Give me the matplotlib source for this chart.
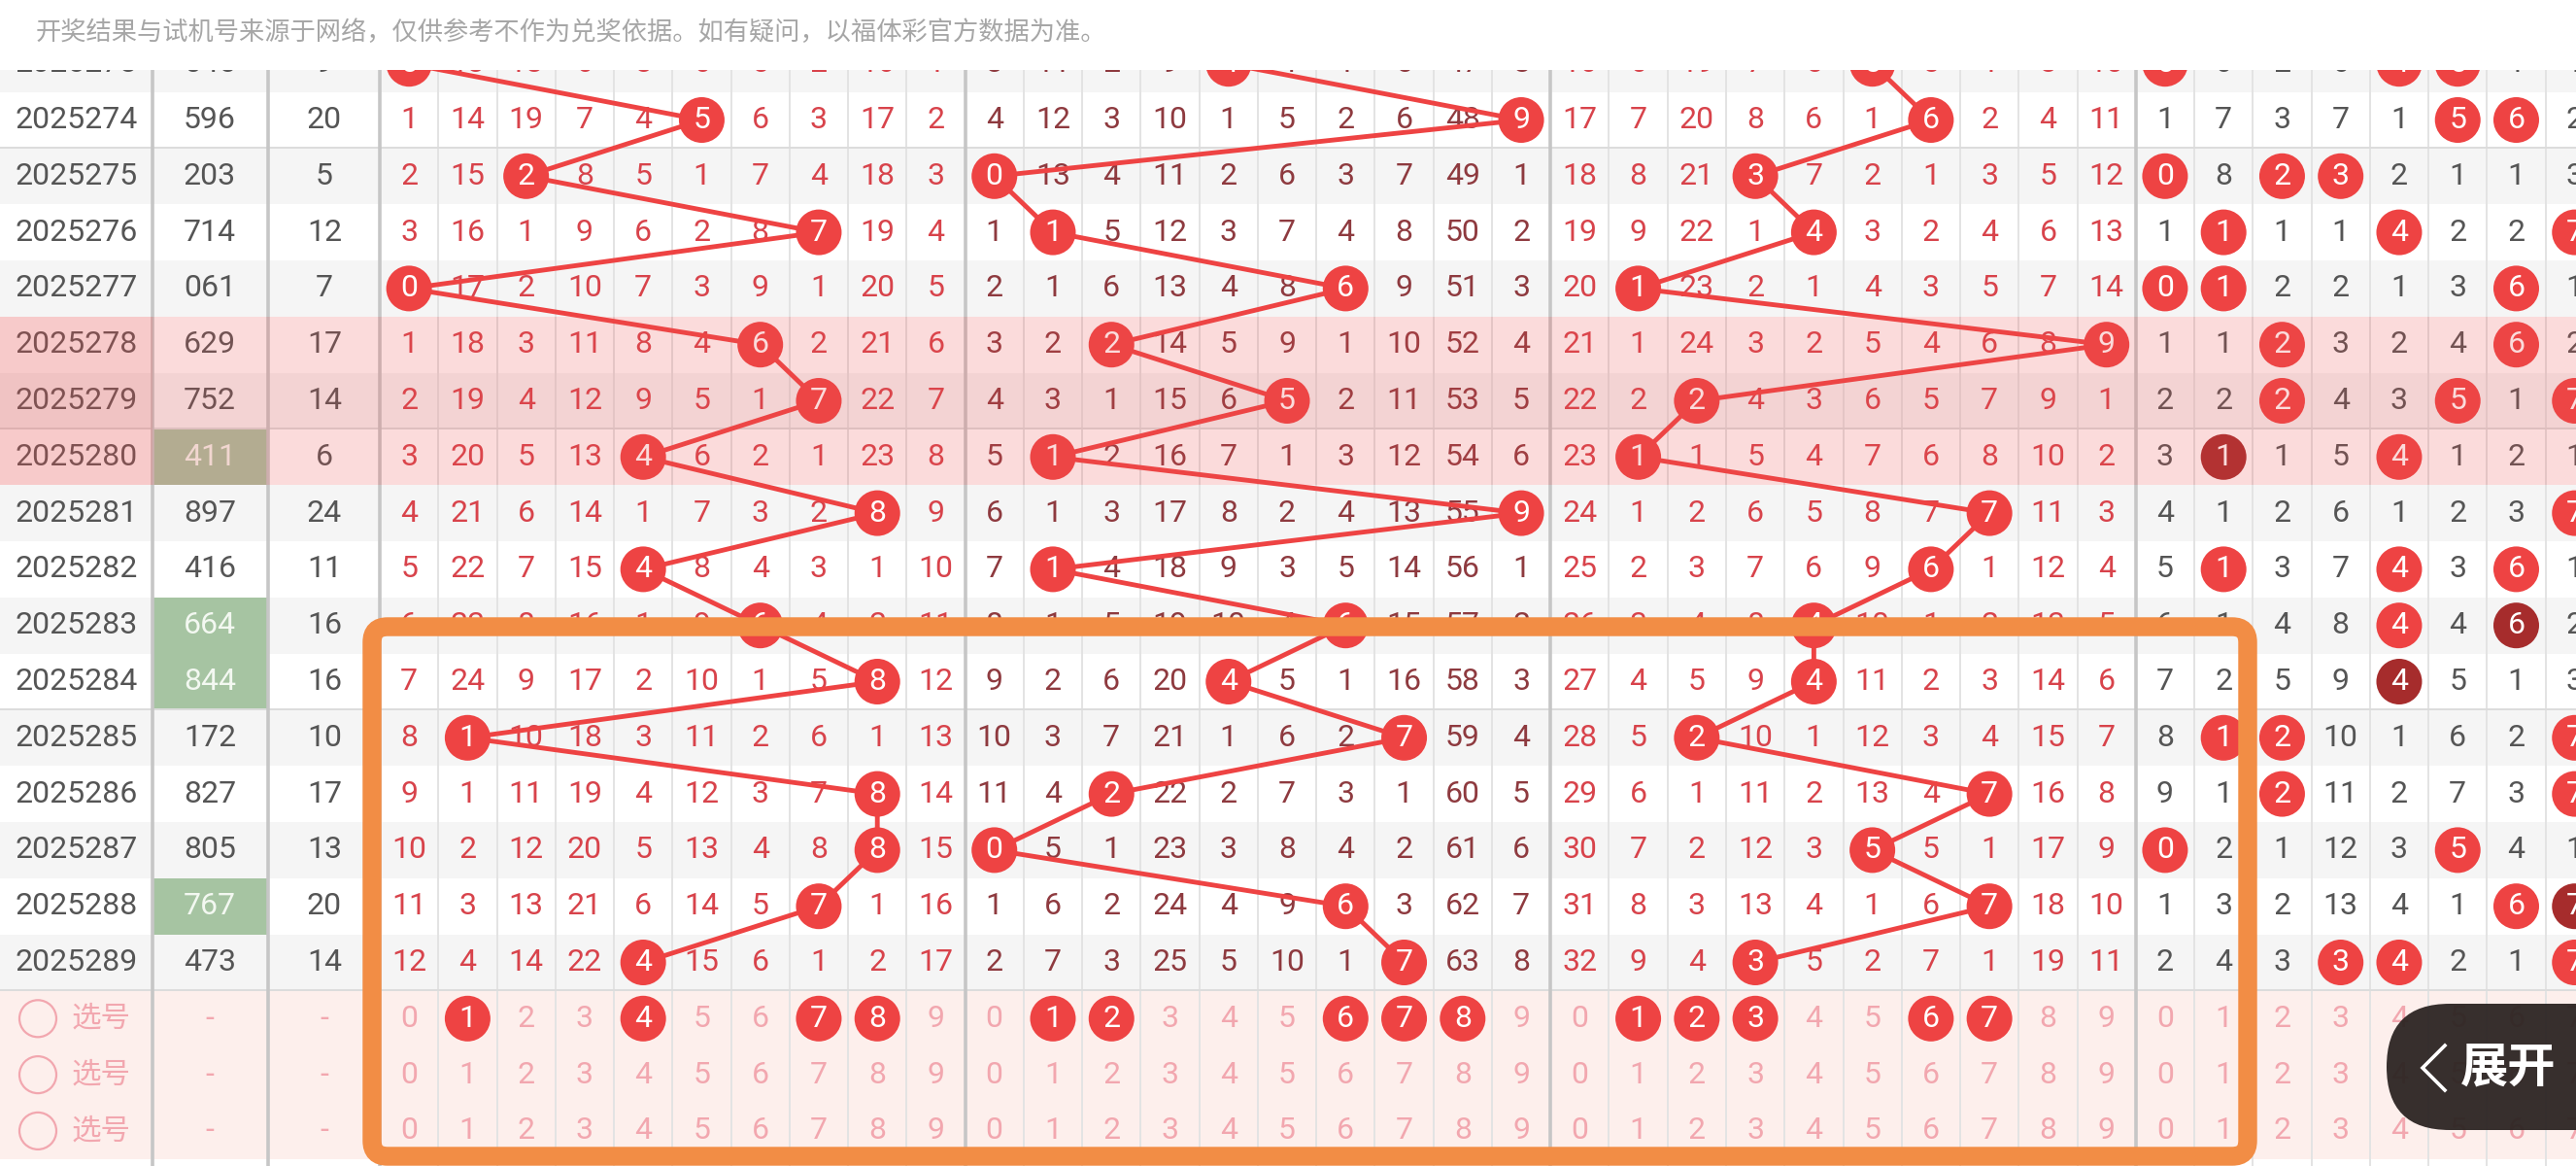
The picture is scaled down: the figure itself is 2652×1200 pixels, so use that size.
import matplotlib
matplotlib.use('Agg')
import matplotlib.pyplot as plt
from matplotlib.patches import Rectangle, Circle, FancyBboxPatch

W, H = 2652, 1200

# ---- data ----
periods = list(range(2025273, 2025290))
numbers = ['045', '596', '203', '714', '061', '629', '752', '411', '897',
           '416', '664', '844', '172', '827', '805', '767', '473']
sums = [9, 20, 5, 12, 7, 17, 14, 6, 24, 11, 16, 16, 10, 17, 13, 20, 14]

# omission counts per digit 0-9, 0 marks the drawn digit (ball)
hundreds_miss = [
    [0, 13, 18, 6, 3, 6, 5, 2, 16, 1],
    [1, 14, 19, 7, 4, 0, 6, 3, 17, 2],
    [2, 15, 0, 8, 5, 1, 7, 4, 18, 3],
    [3, 16, 1, 9, 6, 2, 8, 0, 19, 4],
    [0, 17, 2, 10, 7, 3, 9, 1, 20, 5],
    [1, 18, 3, 11, 8, 4, 0, 2, 21, 6],
    [2, 19, 4, 12, 9, 5, 1, 0, 22, 7],
    [3, 20, 5, 13, 0, 6, 2, 1, 23, 8],
    [4, 21, 6, 14, 1, 7, 3, 2, 0, 9],
    [5, 22, 7, 15, 0, 8, 4, 3, 1, 10],
    [6, 23, 8, 16, 1, 9, 0, 4, 2, 11],
    [7, 24, 9, 17, 2, 10, 1, 5, 0, 12],
    [8, 0, 10, 18, 3, 11, 2, 6, 1, 13],
    [9, 1, 11, 19, 4, 12, 3, 7, 0, 14],
    [10, 2, 12, 20, 5, 13, 4, 8, 0, 15],
    [11, 3, 13, 21, 6, 14, 5, 0, 1, 16],
    [12, 4, 14, 22, 0, 15, 6, 1, 2, 17],
]
tens_miss = [
    [3, 11, 2, 9, 0, 4, 1, 5, 47, 8],
    [4, 12, 3, 10, 1, 5, 2, 6, 48, 0],
    [0, 13, 4, 11, 2, 6, 3, 7, 49, 1],
    [1, 0, 5, 12, 3, 7, 4, 8, 50, 2],
    [2, 1, 6, 13, 4, 8, 0, 9, 51, 3],
    [3, 2, 0, 14, 5, 9, 1, 10, 52, 4],
    [4, 3, 1, 15, 6, 0, 2, 11, 53, 5],
    [5, 0, 2, 16, 7, 1, 3, 12, 54, 6],
    [6, 1, 3, 17, 8, 2, 4, 13, 55, 0],
    [7, 0, 4, 18, 9, 3, 5, 14, 56, 1],
    [8, 1, 5, 19, 10, 4, 0, 15, 57, 2],
    [9, 2, 6, 20, 0, 5, 1, 16, 58, 3],
    [10, 3, 7, 21, 1, 6, 2, 0, 59, 4],
    [11, 4, 0, 22, 2, 7, 3, 1, 60, 5],
    [0, 5, 1, 23, 3, 8, 4, 2, 61, 6],
    [1, 6, 2, 24, 4, 9, 0, 3, 62, 7],
    [2, 7, 3, 25, 5, 10, 1, 0, 63, 8],
]
units_miss = [
    [16, 6, 19, 7, 5, 0, 5, 1, 3, 10],
    [17, 7, 20, 8, 6, 1, 0, 2, 4, 11],
    [18, 8, 21, 0, 7, 2, 1, 3, 5, 12],
    [19, 9, 22, 1, 0, 3, 2, 4, 6, 13],
    [20, 0, 23, 2, 1, 4, 3, 5, 7, 14],
    [21, 1, 24, 3, 2, 5, 4, 6, 8, 0],
    [22, 2, 0, 4, 3, 6, 5, 7, 9, 1],
    [23, 0, 1, 5, 4, 7, 6, 8, 10, 2],
    [24, 1, 2, 6, 5, 8, 7, 0, 11, 3],
    [25, 2, 3, 7, 6, 9, 0, 1, 12, 4],
    [26, 3, 4, 8, 0, 10, 1, 2, 13, 5],
    [27, 4, 5, 9, 0, 11, 2, 3, 14, 6],
    [28, 5, 0, 10, 1, 12, 3, 4, 15, 7],
    [29, 6, 1, 11, 2, 13, 4, 0, 16, 8],
    [30, 7, 2, 12, 3, 0, 5, 1, 17, 9],
    [31, 8, 3, 13, 4, 1, 6, 0, 18, 10],
    [32, 9, 4, 0, 5, 2, 7, 1, 19, 11],
]
# digit distribution, only digits 0-7 are on screen
dist_miss = [
    [0, 6, 2, 6, 0, 0, 1, 1],
    [1, 7, 3, 7, 1, 0, 0, 2],
    [0, 8, 0, 0, 2, 1, 1, 3],
    [1, 0, 1, 1, 0, 2, 2, 0],
    [0, 0, 2, 2, 1, 3, 0, 1],
    [1, 1, 0, 3, 2, 4, 0, 2],
    [2, 2, 0, 4, 3, 0, 1, 0],
    [3, 0, 1, 5, 0, 1, 2, 1],
    [4, 1, 2, 6, 1, 2, 3, 0],
    [5, 0, 3, 7, 0, 3, 0, 1],
    [6, 1, 4, 8, 0, 4, 0, 2],
    [7, 2, 5, 9, 0, 5, 1, 3],
    [8, 0, 0, 10, 1, 6, 2, 0],
    [9, 1, 0, 11, 2, 7, 3, 0],
    [0, 2, 1, 12, 3, 0, 4, 1],
    [1, 3, 2, 13, 4, 1, 0, 0],
    [2, 4, 3, 0, 0, 2, 1, 0],
]
pick_hundreds = [1, 4, 7, 8]
pick_tens = [1, 2, 6, 7, 8]
pick_units = [1, 2, 3, 6, 7]
highlight = [2025278, 2025279, 2025280]
notice = '开奖结果与试机号来源于网络，仅供参考不作为兑奖依据。如有疑问，以福体彩官方数据为准。'

# ---- layout (pixels) ----
ROW_H = 57.8
Y0 = 65.7
COL_W = 60.26
X0 = 391
RAD = 23.5
NUM = 'Roboto'
CJK = ['Noto Sans CJK SC', 'DejaVu Sans']

RED = '#EE4343'
DARK_BALL = '#A62C2C'
GRAY_TXT = '#555555'
H_TXT = '#D8434B'
T_TXT = '#8E3A3F'
PALE = '#F2A7AF'
FS = 23


def ry(i):
    return Y0 + i * ROW_H


def cx(j):
    return X0 + (j + 0.5) * COL_W


fig = plt.figure(figsize=(W / 100, H / 100), dpi=100)
ax = fig.add_axes([0, 0, 1, 1])
ax.set_xlim(0, W)
ax.set_ylim(H, 0)
ax.axis('off')

n = len(periods)
n_pick = 3

# row backgrounds
for i in range(n + n_pick):
    top = ry(i) - ROW_H / 2
    if i >= n:
        fc = '#FDEFEC'
    else:
        fc = '#F5F5F5' if periods[i] % 2 else '#FFFFFF'
    ax.add_patch(Rectangle((0, top), W, ROW_H, fc=fc, ec='none', zorder=0))

# number cells with a repeated digit
for i, num in enumerate(numbers):
    if len(set(num)) == 2:
        ax.add_patch(Rectangle((157, ry(i) - ROW_H / 2), 119, ROW_H,
                               fc='#A6C4A2', ec='none', zorder=0.5))

# grid
for j in range(39):
    ax.plot([X0 + j * COL_W] * 2, [0, H], color='#E3E3E3', lw=1.4, zorder=1)
for x in [157, 276, X0, X0 + 10 * COL_W, X0 + 20 * COL_W, X0 + 30 * COL_W]:
    ax.plot([x, x], [0, H], color='#C6C6C6', lw=2.6, zorder=1.2)
for i, p in enumerate(periods):
    if p % 5 == 4:
        yb = ry(i) + ROW_H / 2
        ax.plot([0, W], [yb, yb], color='#DCDCDC', lw=1.4, zorder=1.1)

# left columns
for i, p in enumerate(periods):
    y = ry(i)
    ax.text(79, y, str(p), ha='center', va='center', fontsize=FS,
            family=NUM, color=GRAY_TXT, zorder=3)
    green = len(set(numbers[i])) == 2
    ax.text(216, y, numbers[i], ha='center', va='center', fontsize=FS,
            family=NUM, color='#F3F8F1' if green else GRAY_TXT, zorder=3)
    ax.text(334, y, str(sums[i]), ha='center', va='center', fontsize=FS,
            family=NUM, color=GRAY_TXT, zorder=3)

# omission numbers, trend lines, balls
groups = [(hundreds_miss, 0, H_TXT), (tens_miss, 10, T_TXT), (units_miss, 20, H_TXT)]
for g, (miss, off, tc) in enumerate(groups):
    xs, ys = [], []
    for i, row in enumerate(miss):
        y = ry(i)
        for d, v in enumerate(row):
            if v == 0:
                xs.append(cx(off + d))
                ys.append(y)
                ax.add_patch(Circle((cx(off + d), y), RAD, fc=RED, ec='none', zorder=5))
                ax.text(cx(off + d), y, str(d), ha='center', va='center', fontsize=FS,
                        family=NUM, color='white', zorder=6)
            else:
                ax.text(cx(off + d), y, str(v), ha='center', va='center', fontsize=FS,
                        family=NUM, color=tc, zorder=3)
    ax.plot(xs, ys, color=RED, lw=3.5, zorder=4, solid_capstyle='round')

for i, row in enumerate(dist_miss):
    y = ry(i)
    for d, v in enumerate(row):
        x = cx(30 + d)
        if v == 0:
            dbl = numbers[i].count(str(d)) > 1
            ax.add_patch(Circle((x, y), RAD, fc=DARK_BALL if dbl else RED, ec='none', zorder=5))
            ax.text(x, y, str(d), ha='center', va='center', fontsize=FS,
                    family=NUM, color='white', zorder=6)
        else:
            ax.text(x, y, str(v), ha='center', va='center', fontsize=FS,
                    family=NUM, color=GRAY_TXT, zorder=3)

# pick rows
for k in range(n_pick):
    i = n + k
    y = ry(i)
    ax.add_patch(Circle((39, y), 19, fc='none', ec=PALE, lw=1.6, zorder=3))
    ax.text(104, y, '选号', ha='center', va='center', fontsize=22, family=CJK,
            color=PALE, zorder=3)
    ax.text(216, y, '-', ha='center', va='center', fontsize=FS, family=NUM, color=PALE, zorder=3)
    ax.text(334, y, '-', ha='center', va='center', fontsize=FS, family=NUM, color=PALE, zorder=3)
    for off, picks in [(0, pick_hundreds), (10, pick_tens), (20, pick_units), (30, [])]:
        for d in range(10 if off < 30 else 8):
            x = cx(off + d)
            if k == 0 and d in picks:
                ax.add_patch(Circle((x, y), RAD, fc=RED, ec='none', zorder=5))
                ax.text(x, y, str(d), ha='center', va='center', fontsize=FS,
                        family=NUM, color='white', zorder=6)
            else:
                ax.text(x, y, str(d), ha='center', va='center', fontsize=FS,
                        family=NUM, color=PALE, zorder=3)

# highlighted periods overlay
hi = [periods.index(p) for p in highlight]
top = ry(hi[0]) - ROW_H / 2
ax.add_patch(Rectangle((0, top), W, ROW_H * len(hi), fc='#EB4F4F', alpha=0.2,
                       ec='none', zorder=8))
ax.add_patch(Rectangle((0, top), 157, ROW_H * len(hi), fc='#E05050', alpha=0.12,
                       ec='none', zorder=8.1))

# orange frame
ax.add_patch(FancyBboxPatch((383, 645), 2314 - 383, 1190 - 645,
                            boxstyle='round,pad=0,rounding_size=16',
                            fill=False, ec='#F28D45', lw=14, zorder=10))

# header notice
ax.add_patch(Rectangle((0, 0), W, 72, fc='white', ec='none', zorder=12))
ax.text(37, 34, notice, ha='left', va='center', fontsize=18.9, family=CJK,
        color='#A6A6A6', zorder=13)

# expand button
ax.add_patch(FancyBboxPatch((2457, 1033), 400, 130,
                            boxstyle='round,pad=0,rounding_size=65',
                            fc='#2A2321', ec='none', alpha=0.94, zorder=14))
ax.plot([2517, 2494, 2517], [1076, 1099, 1122], color='white', lw=2.6,
        zorder=15, solid_joinstyle='miter')
ax.text(2533, 1099, '展开', ha='left', va='center', fontsize=35.5, family=CJK,
        fontweight='bold', color='white', zorder=15)

fig.savefig('out.png', dpi=100)
